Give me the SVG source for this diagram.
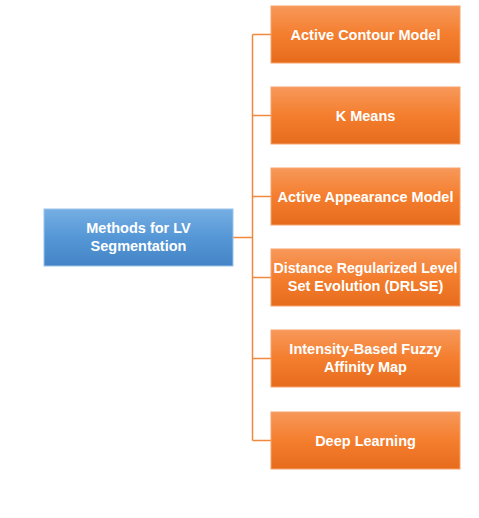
<svg xmlns="http://www.w3.org/2000/svg" width="479" height="518" viewBox="0 0 479 518">
<defs>
<linearGradient id="og" x1="0" y1="0" x2="0" y2="1">
<stop offset="0" stop-color="#F7985A"/>
<stop offset="0.5" stop-color="#F47E2E"/>
<stop offset="1" stop-color="#E66C1C"/>
</linearGradient>
<linearGradient id="bg" x1="0" y1="0" x2="0" y2="1">
<stop offset="0" stop-color="#75AEE3"/>
<stop offset="0.5" stop-color="#5597D6"/>
<stop offset="1" stop-color="#4484C6"/>
</linearGradient>
<style>
.o{fill:url(#og);stroke:#F7A36E;stroke-width:1}
.b{fill:url(#bg);stroke:#9CC4EC;stroke-width:1}
.t{font-family:"Liberation Sans",Arial,sans-serif;font-weight:bold;font-size:14.5px;fill:#FFFFFF;text-anchor:middle}
.c{fill:none;stroke:#F0883E;stroke-width:1.5}
</style>
</defs>
<rect width="479" height="518" fill="#FFFFFF"/>
<g id="connectors">
<path class="c" d="M233 237.5H252.5M252.5 34.5V440.5M252.5 34.5H271M252.5 115.5H271M252.5 196.5H271M252.5 277.5H271M252.5 358.5H271M252.5 440.5H271"/>
</g>
<g id="root">
<rect class="b" x="44" y="209" width="189" height="57"/>
<text class="t" x="138.5" y="233">Methods for LV</text>
<text class="t" x="138.5" y="251">Segmentation</text>
</g>
<g id="n1">
<rect class="o" x="271" y="6" width="189" height="57"/>
<text class="t" x="365.5" y="39.5">Active Contour Model</text>
</g>
<g id="n2">
<rect class="o" x="271" y="87" width="189" height="57"/>
<text class="t" x="365.5" y="120.5">K Means</text>
</g>
<g id="n3">
<rect class="o" x="271" y="168" width="189" height="57"/>
<text class="t" x="365.5" y="201.5">Active Appearance Model</text>
</g>
<g id="n4">
<rect class="o" x="271" y="249" width="189" height="57"/>
<text class="t" x="365.5" y="273" textLength="184" lengthAdjust="spacingAndGlyphs">Distance Regularized Level</text>
<text class="t" x="365.5" y="291">Set Evolution (DRLSE)</text>
</g>
<g id="n5">
<rect class="o" x="271" y="330" width="189" height="57"/>
<text class="t" x="365.5" y="354">Intensity-Based Fuzzy</text>
<text class="t" x="365.5" y="372">Affinity Map</text>
</g>
<g id="n6">
<rect class="o" x="271" y="412" width="189" height="57"/>
<text class="t" x="365.5" y="445.5">Deep Learning</text>
</g>
</svg>
